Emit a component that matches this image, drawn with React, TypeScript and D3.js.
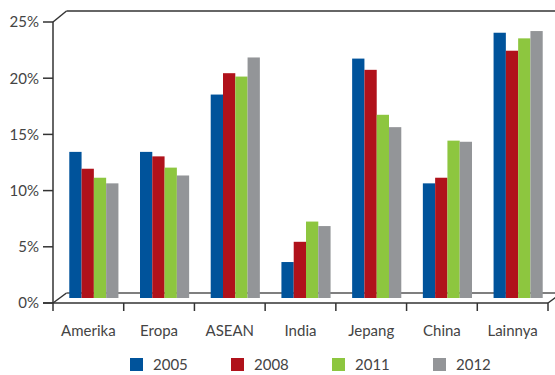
import React from "react";
import * as d3 from "d3";

const categories = ["Amerika", "Eropa", "ASEAN", "India", "Jepang", "China", "Lainnya"];
const seriesNames = ["2005", "2008", "2011", "2012"];
const v2005 = [13.0, 13.0, 18.1, 3.2, 21.3, 10.2, 23.6];
const v2008 = [11.5, 12.6, 20.0, 5.0, 20.3, 10.7, 22.0];
const v2011 = [10.7, 11.6, 19.7, 6.8, 16.3, 14.0, 23.1];
const v2012 = [10.2, 10.9, 21.4, 6.4, 15.2, 13.9, 23.75];
const seriesValues = [v2005, v2008, v2011, v2012];
const colors = ["#00539b", "#b0121b", "#8dc63f", "#939598"];
const yTicks = [0, 5, 10, 15, 20, 25];

const W = 555;
const H = 375;
const left = 53;
const right = 548;
const frontBase = 303;
const frontTop = 22;
const dx = 13.5;
const dy = -11;
const font = "Lato, 'Open Sans', sans-serif";

export default function App() {
  const yFront = d3.scaleLinear().domain([0, 25]).range([frontBase, frontTop]);
  const yBar = d3.scaleLinear().domain([0, 25]).range([frontBase - 5, frontTop - 5]);
  const xFront = d3.scaleBand().domain(categories).range([left, right]).padding(0);
  const x0 = d3
    .scaleBand()
    .domain(categories)
    .range([left + 5.5, right + 5.5])
    .paddingInner(0.305)
    .paddingOuter(0.1525);
  const x1 = d3.scaleBand().domain(seriesNames).range([0, x0.bandwidth()]);
  const axisColor = "#333";

  return (
    <svg width={W} height={H} style={{ position: "absolute", left: 0, top: 0 }}>
      <rect width={W} height={H} fill="#fff" />
      {/* back wall top line */}
      <line x1={left} y1={frontTop} x2={left + dx} y2={frontTop + dy} stroke={axisColor} strokeWidth={1.5} />
      <line x1={left + dx} y1={frontTop + dy} x2={W + 10} y2={frontTop + dy} stroke={axisColor} strokeWidth={1.5} />
      {/* floor back line */}
      <line x1={left} y1={frontBase} x2={left + dx} y2={frontBase + dy + 1} stroke={axisColor} strokeWidth={1.5} />
      <line x1={left + dx} y1={frontBase + dy + 1} x2={W + 10} y2={frontBase + dy + 1} stroke="#555" strokeWidth={1.5} />
      <line x1={right} y1={frontBase} x2={right + dx} y2={frontBase + dy + 1} stroke={axisColor} strokeWidth={1.5} />
      {/* bars */}
      {categories.map((c, i) => (
        <g key={c}>
          {seriesValues.map((vals, s) => (
            <rect
              key={s}
              x={(x0(c) ?? 0) + (x1(seriesNames[s]) ?? 0)}
              y={yBar(vals[i])}
              width={x1.bandwidth()}
              height={yBar(0) - yBar(vals[i])}
              fill={colors[s]}
            />
          ))}
        </g>
      ))}
      {/* front axes */}
      <line x1={left} y1={frontTop} x2={left} y2={frontBase + 8} stroke={axisColor} strokeWidth={1.5} />
      <line x1={left - 10} y1={frontBase} x2={right} y2={frontBase} stroke={axisColor} strokeWidth={1.5} />
      {yTicks.map((t) => (
        <g key={t}>
          <line x1={left - 10} y1={yFront(t)} x2={left} y2={yFront(t)} stroke={axisColor} strokeWidth={1.5} />
          <text
            x={39}
            y={yFront(t)}
            dy="0.36em"
            textAnchor="end"
            fontFamily={font}
            fontSize={15}
            fill="#444"
          >
            {t}%
          </text>
        </g>
      ))}
      {categories.map((c) => (
        <line
          key={c}
          x1={(xFront(c) ?? 0) + xFront.bandwidth()}
          y1={frontBase}
          x2={(xFront(c) ?? 0) + xFront.bandwidth()}
          y2={frontBase + 8}
          stroke={axisColor}
          strokeWidth={1.5}
        />
      ))}
      {categories.map((c) => (
        <text
          key={c}
          x={(xFront(c) ?? 0) + xFront.bandwidth() / 2}
          y={336}
          textAnchor="middle"
          fontFamily={font}
          fontSize={15}
          fill="#444"
        >
          {c}
        </text>
      ))}
      {/* legend */}
      {seriesNames.map((s, i) => (
        <g key={s} transform={`translate(${130 + i * 101},358)`}>
          <rect x={0} y={0} width={13} height={13} fill={colors[i]} />
          <text x={23} y={12} fontFamily={font} fontSize={15} fill="#444">
            {s}
          </text>
        </g>
      ))}
    </svg>
  );
}
